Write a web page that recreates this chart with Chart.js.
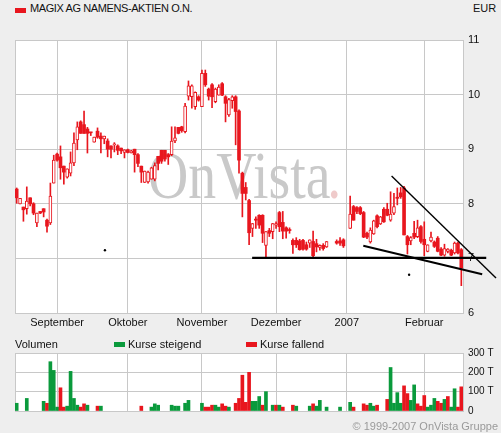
<!DOCTYPE html>
<html>
<head>
<meta charset="utf-8">
<script src="https://cdn.jsdelivr.net/npm/chart.js@4.4.1/dist/chart.umd.min.js"></script>
<style>
body { margin: 0; background: #eeeeee; }
#wrap { position: relative; width: 501px; height: 433px; font-family: "Liberation Sans", Arial, sans-serif; font-size: 11px; color: #111; }
.t { position: absolute; white-space: nowrap; line-height: 13px; }
.sq { position: absolute; width: 11px; height: 5px; }
canvas { position: absolute; left: 0; }
</style>
</head>
<body>
<div id="wrap">
  <div class="sq" style="left:15px;top:8px;background:#e8161e"></div>
  <div class="t" style="left:30px;top:2px;letter-spacing:-0.4px">MAGIX AG NAMENS-AKTIEN O.N.</div>
  <div class="t" style="left:473px;top:2px">EUR</div>
  <canvas id="priceChart" width="501" height="332" style="top:0"></canvas>
  <canvas id="volChart" width="501" height="90" style="top:332px"></canvas>
  <div class="t" style="left:15px;top:338px">Volumen</div>
  <div class="sq" style="left:114px;top:342px;background:#0a9a3c"></div>
  <div class="t" style="left:128px;top:338px">Kurse steigend</div>
  <div class="sq" style="left:246px;top:342px;background:#e8161e"></div>
  <div class="t" style="left:260px;top:338px">Kurse fallend</div>
  <div class="t" style="right:3px;top:420px;color:#9a9a9a">© 1999-2007 OnVista Gruppe</div>
</div>
<script>
// one slot per weekday, 16.08.2006 - 16.02.2007
const monthSlots = [12, 33, 55, 77, 98, 121];
const monthLabels = ['September', 'Oktober', 'November', 'Dezember', '2007', 'Februar'];

const open = [
  8.27,8.00,7.94,7.91,8.11,8.00,7.65,7.86,7.91,7.70,
  7.65,8.38,8.91,8.86,8.69,8.49,8.56,8.75,9.17,9.50,
  9.45,9.37,9.31,9.13,9.33,9.24,9.19,9.15,9.06,9.08,
  9.06,9.02,8.94,8.99,8.93,9.00,8.90,8.69,8.39,8.40,
  8.45,8.45,8.87,8.98,8.98,8.90,8.90,9.15,9.40,9.41,
  9.32,9.97,9.96,9.78,9.96,9.78,10.39,10.10,10.18,9.87,
  9.99,10.20,9.96,9.63,9.89,9.96,9.70,8.56,8.30,8.06,
  7.55,7.72,7.79,7.79,7.24,7.51,7.49,7.61,7.84,7.66,
  7.56,7.52,7.33,7.33,7.32,7.33,7.25,7.28,7.31,7.27,
  7.20,7.24,7.21,null,null,7.31,7.32,7.34,null,7.55,
  7.95,7.93,7.93,7.84,7.46,7.30,7.45,7.78,7.63,7.90,
  7.90,7.70,7.83,8.12,8.20,8.29,7.40,7.32,7.46,7.40,
  7.58,7.35,7.13,7.32,7.30,7.37,7.17,7.06,7.13,7.15,
  7.10,7.28,7.16
];
const high = [
  8.29,8.10,7.94,8.31,8.11,8.02,7.83,7.86,7.91,7.72,
  8.38,8.89,8.93,9.06,8.69,8.64,8.95,9.30,9.50,9.52,
  9.70,9.40,9.31,9.22,9.39,9.30,9.24,9.19,9.06,9.12,
  9.08,9.02,8.99,9.00,8.98,9.00,8.92,8.69,8.60,8.60,
  8.67,8.75,8.87,8.98,8.98,8.92,9.41,9.41,9.40,9.42,
  9.84,10.25,10.18,10.05,9.98,10.45,10.45,10.12,10.20,10.12,
  10.18,10.22,9.98,9.93,9.98,9.98,9.72,8.58,8.39,8.08,
  7.64,7.76,7.80,7.80,7.49,7.55,7.64,7.67,7.86,7.86,
  7.58,7.56,7.36,7.38,7.35,7.35,7.30,7.34,7.50,7.35,
  7.25,7.27,7.31,null,null,7.34,7.38,7.36,null,8.14,
  7.97,7.95,7.95,7.86,7.48,7.56,7.70,7.80,7.77,7.93,
  8.01,8.22,8.19,8.29,8.30,8.32,7.42,7.40,7.68,7.70,
  7.60,7.67,7.25,7.48,7.32,7.40,7.20,7.26,7.18,7.17,
  7.30,7.30,7.18
];
const low = [
  8.01,8.00,7.68,7.81,7.96,7.80,7.58,7.82,7.76,7.48,
  7.62,8.38,8.78,8.45,8.36,8.47,8.51,8.70,8.99,9.29,
  9.29,8.93,9.25,9.13,9.20,8.93,9.10,8.86,8.84,8.95,
  8.90,8.92,8.84,8.93,8.93,8.58,8.68,8.39,8.39,8.38,
  8.45,8.42,8.62,8.74,8.78,8.72,8.88,9.12,9.28,9.31,
  9.30,9.90,9.75,9.73,9.88,9.78,10.15,9.90,9.76,9.85,
  9.99,9.98,9.50,9.60,9.75,9.08,8.56,7.76,8.07,7.25,
  7.40,7.55,7.55,7.29,7.03,7.40,7.36,7.55,7.49,7.36,
  7.37,7.46,7.09,7.20,7.15,7.15,7.15,7.20,7.03,7.12,
  7.15,7.15,7.20,null,null,7.26,7.24,7.20,null,7.55,
  7.70,7.82,7.80,7.38,7.36,7.28,7.44,7.56,7.62,7.66,
  7.78,7.68,7.80,7.98,8.10,7.43,7.08,7.25,7.36,7.38,
  7.28,7.05,7.12,7.30,7.20,7.12,7.05,7.04,7.10,7.05,
  7.08,7.08,6.50
];
const close = [
  8.11,8.10,7.89,8.05,8.00,7.83,7.83,7.83,7.85,7.59,
  8.14,8.80,8.80,8.66,8.58,8.64,8.75,9.11,9.41,9.29,
  9.29,9.29,9.30,9.22,9.22,9.19,9.24,9.00,9.00,9.10,
  8.98,8.97,8.99,8.94,8.97,8.90,8.74,8.58,8.60,8.58,
  8.66,8.70,8.74,8.78,8.82,8.86,9.15,9.21,9.29,9.34,
  9.79,10.16,10.16,10.04,9.90,10.39,10.18,9.97,9.96,10.10,
  10.14,9.99,9.84,9.91,9.96,9.69,8.80,8.19,8.19,7.47,
  7.64,7.70,7.61,7.46,7.49,7.46,7.64,7.64,7.58,7.50,
  7.50,7.51,7.25,7.25,7.16,7.17,7.17,7.34,7.05,7.21,
  7.24,7.18,7.31,null,null,7.28,7.28,7.23,null,7.81,
  7.70,7.86,7.82,7.39,7.39,7.52,7.69,7.58,7.76,7.67,
  7.79,7.81,7.95,8.10,8.13,7.43,7.25,7.38,7.39,7.56,
  7.31,7.25,7.25,7.39,7.22,7.13,7.06,7.18,7.17,7.06,
  7.28,7.10,6.82
];

// volume in thousands, 1 = Kurse steigend, 0 = Kurse fallend
const volume = [
  40,0,0,65,0,0,0,0,50,40,
  255,210,20,120,20,25,205,65,30,20,
  37,30,0,0,25,25,0,0,0,0,
  0,0,0,0,0,0,0,25,0,0,
  20,37,30,0,0,0,30,25,25,0,
  40,55,0,0,0,40,20,20,30,30,
  20,37,25,20,0,40,65,185,45,200,
  50,50,75,30,100,0,30,30,30,20,
  0,0,30,25,0,0,0,25,37,25,
  55,0,20,0,0,0,20,0,0,45,
  20,0,0,37,30,40,25,30,0,0,
  60,225,40,95,40,130,90,55,135,37,
  25,80,20,30,65,50,40,60,75,20,
  115,20,125
];
const volumeUp = [
  1,0,0,1,0,0,0,0,1,0,
  1,1,1,0,0,1,1,1,1,0,
  0,1,0,0,0,1,0,0,0,0,
  0,0,0,0,0,0,0,0,0,0,
  1,1,1,0,0,0,1,1,1,0,
  1,1,0,0,0,1,0,0,0,1,
  1,0,0,1,0,0,0,0,0,0,
  1,1,1,0,1,0,1,0,1,0,
  0,0,0,1,0,0,0,1,0,1,
  1,0,1,0,0,0,1,0,0,1,
  0,0,0,0,0,1,1,0,0,0,
  0,1,1,1,1,0,0,1,1,0,
  0,0,1,1,1,0,0,1,0,1,
  1,0,0
];

// hand drawn trend lines (slot, price)
const trendX = [[69.9, 139.4], [102.9, 138.2], [111.3, 142.3]];
const trendY = [[7.01, 7.01], [7.23, 6.71], [8.51, 6.64]];
const trendWidth = [2.2, 2, 1.4];
const markX = [26.2, 116.5];
const markY = [7.15, 6.70];

const RED = '#e8161e';
const GREEN = '#0a9a3c';
const GRID = '#c8c8c8';
const FONT = { family: '"Liberation Sans", Arial, sans-serif', size: 11 };

const slots = close.map((_, i) => i);
const wickData = slots.filter(i => high[i] !== null)
  .map(i => ({ x: i, y: [low[i], high[i]] }));
const bodyData = slots.filter(i => open[i] !== null)
  .map(i => ({ x: i, y: [Math.min(open[i], close[i]), Math.max(open[i], close[i])], up: close[i] > open[i] }));
const volData = slots.filter(i => volume[i] > 0)
  .map(i => ({ x: i, y: volume[i], up: volumeUp[i] === 1 }));

const plotBox = {
  id: 'plotBox',
  beforeDraw(chart) {
    const { ctx, chartArea: a } = chart;
    ctx.save();
    ctx.fillStyle = '#ffffff';
    ctx.fillRect(a.left, a.top, a.right - a.left, a.bottom - a.top);
    ctx.restore();
  },
  beforeDatasetsDraw(chart) {
    const { ctx, chartArea: a } = chart;
    ctx.save();
    ctx.strokeStyle = GRID;
    ctx.lineWidth = 1;
    ctx.strokeRect(a.left + 0.5, a.top + 0.5, a.right - a.left, a.bottom - a.top);
    ctx.restore();
  }
};

const watermark = {
  id: 'watermark',
  beforeDatasetsDraw(chart) {
    const { ctx, chartArea: a } = chart;
    ctx.save();
    ctx.font = '68px "Liberation Serif", "Times New Roman", serif';
    ctx.fillStyle = '#c9c9c9';
    ctx.textBaseline = 'alphabetic';
    const txt = 'OnVista';
    const sx = 0.82;
    const w = ctx.measureText(txt).width;
    const x0 = 148;
    const yb = a.top + 158;
    ctx.translate(x0, yb);
    ctx.scale(sx, 1);
    ctx.fillText(txt, 0, 0);
    ctx.fillStyle = '#efcaca';
    ctx.fillText('.', w - 4, 0);
    ctx.restore();
  }
};

const monthTicks = scale => { scale.ticks = monthSlots.map(v => ({ value: v })); };

new Chart(document.getElementById('priceChart'), {
  type: 'bar',
  data: {
    datasets: [
      ...trendX.map((tx, k) => ({
        type: 'line',
        data: tx.map((x, j) => ({ x: x, y: trendY[k][j] })),
        borderColor: '#000',
        borderWidth: trendWidth[k],
        pointRadius: 0,
        clip: false
      })),
      {
        type: 'line',
        data: markX.map((x, j) => ({ x: x, y: markY[j] })),
        showLine: false,
        pointRadius: 1.2,
        pointBackgroundColor: '#000',
        pointBorderWidth: 0
      },
      {
        data: bodyData,
        grouped: false,
        barThickness: 3,
        minBarLength: 1,
        borderSkipped: false,
        backgroundColor: c => c.raw && c.raw.up ? '#ffffff' : RED,
        borderColor: RED,
        borderWidth: c => c.raw && c.raw.up ? 1 : 0
      },
      {
        data: wickData,
        grouped: false,
        barThickness: 1,
        minBarLength: 1,
        backgroundColor: RED,
        borderWidth: 0
      }
    ]
  },
  options: {
    responsive: false,
    animation: false,
    layout: { padding: { left: 15, top: 40, right: 0, bottom: 0 } },
    plugins: { legend: { display: false }, tooltip: { enabled: false } },
    scales: {
      x: {
        type: 'linear',
        min: -0.5,
        max: 132.5,
        offset: false,
        afterBuildTicks: monthTicks,
        afterFit: s => { s.height = 19; },
        grid: { color: GRID, drawTicks: false, offset: false },
        border: { display: false },
        ticks: {
          autoSkip: false,
          maxRotation: 0,
          padding: 3,
          color: '#111',
          font: FONT,
          callback: v => monthLabels[monthSlots.indexOf(v)]
        }
      },
      y: {
        position: 'right',
        min: 6,
        max: 11,
        afterFit: s => { s.width = 38; },
        grid: { color: GRID, drawTicks: false },
        border: { display: false },
        ticks: { stepSize: 1, padding: 5, color: '#111', font: FONT }
      }
    }
  },
  plugins: [plotBox, watermark]
});

new Chart(document.getElementById('volChart'), {
  type: 'bar',
  data: {
    datasets: [{
      data: volData,
      barThickness: 3,
      backgroundColor: c => c.raw && c.raw.up ? GREEN : RED,
      borderWidth: 0
    }]
  },
  options: {
    responsive: false,
    animation: false,
    layout: { padding: { left: 15, top: 21, right: 0, bottom: 0 } },
    plugins: { legend: { display: false }, tooltip: { enabled: false } },
    scales: {
      x: {
        type: 'linear',
        min: -0.5,
        max: 132.5,
        offset: false,
        afterBuildTicks: monthTicks,
        afterFit: s => { s.height = 9; },
        grid: { color: GRID, drawTicks: false, offset: false },
        border: { display: false },
        ticks: { display: false }
      },
      y: {
        position: 'right',
        min: 0,
        max: 300,
        afterFit: s => { s.width = 38; },
        grid: { color: GRID, drawTicks: false },
        border: { display: false },
        ticks: {
          stepSize: 100,
          padding: 5,
          color: '#111',
          font: { family: FONT.family, size: 10 },
          callback: v => v === 0 ? '0' : v + ' T'
        }
      }
    }
  },
  plugins: [plotBox]
});
</script>
</body>
</html>
